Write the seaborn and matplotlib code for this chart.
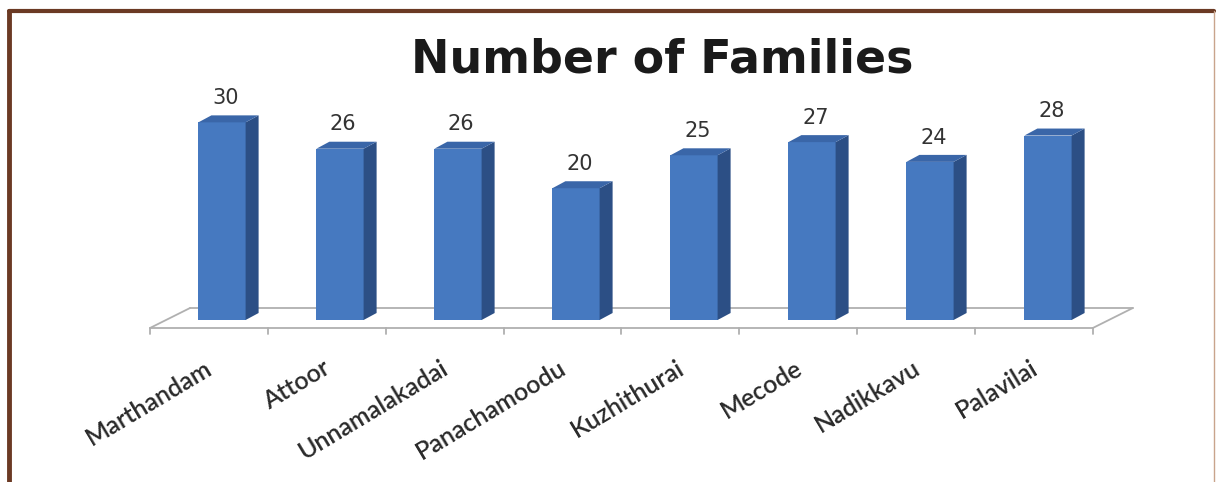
import numpy as np
import pandas as pd
import matplotlib
matplotlib.use("Agg")
import matplotlib.pyplot as plt
import matplotlib.transforms as mtransforms
from matplotlib.patches import Polygon
from matplotlib.lines import Line2D
import seaborn as sns

# data
places = ['Marthandam', 'Attoor', 'Unnamalakadai', 'Panachamoodu',
          'Kuzhithurai', 'Mecode', 'Nadikkavu', 'Palavilai']
families = [30, 26, 26, 20, 25, 27, 24, 28]
title = 'Number of Families'

df = pd.DataFrame({'place': places, 'families': families})

sns.set_style('white')
plt.rcParams['font.family'] = ['DejaVu Sans']

fig = plt.figure(figsize=(12.19, 4.82), dpi=100)
fig.patch.set_facecolor('white')
ax = fig.add_axes([104/1219, (482-320)/482, 1062/1219, 224/482])

front = '#4679c0'
side = '#2c4f85'
top = '#3a66a8'

sns.barplot(data=df, x='place', y='families', color=front, width=0.4,
            saturation=1, ax=ax, linewidth=0)
ax.set_xlim(-1, 8)
ax.set_ylim(0, 34)
ax.axis('off')

# 3d look: depth in pixels converted to data units
px_x = 1 / 118.0
px_y = 1 / 6.6
dx, dy = 13 * px_x, 7 * px_y

# floor (drawn first, behind the bars)
n = len(places)
fx0, fx1 = -0.5 - 0.61 + 0.5, n - 0.5 - 0.12
fy = -8 * px_y
bdx, bdy = 40 * px_x, 20 * px_y
floor_col = '#b0b0b0'
for xs, ys in [([fx0, fx1], [fy, fy]),
               ([fx0 + bdx, fx1 + bdx], [fy + bdy, fy + bdy]),
               ([fx0, fx0 + bdx], [fy, fy + bdy]),
               ([fx1, fx1 + bdx], [fy, fy + bdy])]:
    ax.add_line(Line2D(xs, ys, color=floor_col, lw=1.3, clip_on=False, zorder=0))
for i in range(n + 1):
    tx = fx0 + i * (fx1 - fx0) / n
    ax.add_line(Line2D([tx, tx], [fy, fy - 6 * px_y], color=floor_col,
                       lw=1.3, clip_on=False, zorder=0))

for p in ax.patches[:n]:
    x, w, h = p.get_x(), p.get_width(), p.get_height()
    p.set_zorder(3)
    ax.add_patch(Polygon([(x + w, 0), (x + w + dx, dy), (x + w + dx, h + dy), (x + w, h)],
                         closed=True, facecolor=side, edgecolor='none', zorder=3))
    ax.add_patch(Polygon([(x, h), (x + dx, h + dy), (x + w + dx, h + dy), (x + w, h)],
                         closed=True, facecolor=top, edgecolor='none', zorder=3))
    ax.text(x + w / 2 + dx / 4, h + dy + 1.1, f'{int(h)}', ha='center', va='bottom',
            fontsize=15, color='#333333', zorder=4)

lab_tr = mtransforms.offset_copy(ax.transData, fig, x=-12, y=-46, units='dots')
for i, name in enumerate(places):
    ax.text(i, 0, name, transform=lab_tr, rotation=31, rotation_mode='anchor',
            ha='right', va='center', fontsize=18, color='#2a2a2a',
            family=['Lato', 'DejaVu Sans'], fontweight='semibold')

fig.text(662/1219, 1 - 60/482, title, ha='center', va='center',
         fontsize=33, fontweight='bold', color='#1a1a1a',
         family=['DejaVu Sans'])

# brown frame
brown = '#6b3a24'
fig.add_artist(Line2D([9/1219, 1214/1219], [1 - 11/482] * 2, color=brown, lw=3,
                      transform=fig.transFigure))
fig.add_artist(Line2D([9/1219] * 2, [0, 1 - 11/482], color=brown, lw=3.5,
                      transform=fig.transFigure))
fig.add_artist(Line2D([1214/1219] * 2, [0, 1 - 11/482], color='#c9a48c', lw=1,
                      transform=fig.transFigure))

fig.savefig('out.png', dpi=100)
